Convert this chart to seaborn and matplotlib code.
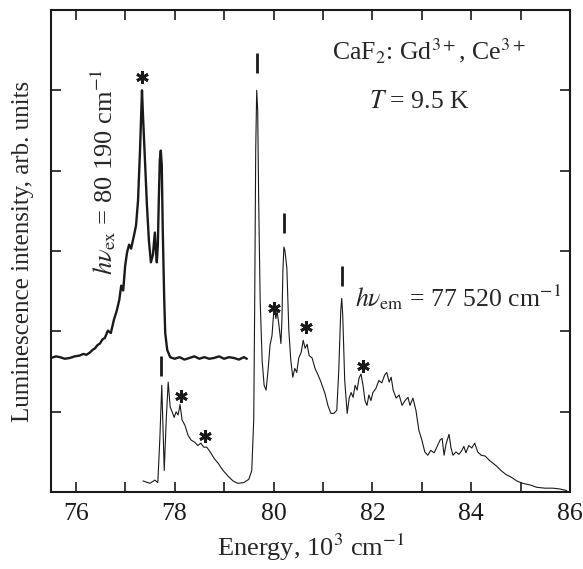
import matplotlib
matplotlib.use("Agg")
import matplotlib.pyplot as plt
from matplotlib.ticker import MultipleLocator, NullFormatter
import seaborn as sns

# excitation spectrum (thick line)
ex_energy = [75.50, 75.60, 75.68, 75.78, 75.88, 75.98, 76.08, 76.15, 76.22, 76.29, 76.34, 76.39,
             76.44, 76.49, 76.54, 76.59, 76.65, 76.71, 76.77, 76.83, 76.88, 76.92, 76.96, 77.00,
             77.04, 77.08, 77.12, 77.18, 77.22, 77.26, 77.30, 77.32, 77.34, 77.36, 77.40, 77.44,
             77.48, 77.52, 77.56, 77.60, 77.62, 77.64, 77.66, 77.68, 77.70, 77.72, 77.74, 77.76,
             77.79, 77.81, 77.85, 77.91, 78.00, 78.10, 78.20, 78.30, 78.40, 78.50, 78.60, 78.70,
             78.80, 78.90, 79.00, 79.10, 79.20, 79.30, 79.40, 79.46]
ex_int = [1.67, 1.69, 1.68, 1.66, 1.67, 1.69, 1.70, 1.72, 1.71, 1.74, 1.77, 1.79,
          1.83, 1.85, 1.90, 1.92, 2.01, 1.98, 2.14, 2.26, 2.39, 2.57, 2.51, 2.82,
          2.99, 3.08, 3.03, 3.20, 3.32, 3.63, 4.25, 4.63, 5.00, 4.69, 4.13, 3.57,
          3.13, 2.86, 2.95, 3.23, 3.01, 2.86, 3.07, 3.63, 4.13, 4.25, 4.07, 3.26,
          2.39, 1.98, 1.77, 1.68, 1.66, 1.68, 1.65, 1.67, 1.69, 1.66, 1.68, 1.66,
          1.67, 1.69, 1.66, 1.68, 1.67, 1.65, 1.68, 1.66]

# emission spectrum (thin line)
em_energy = [77.36, 77.50, 77.60, 77.66, 77.70, 77.74, 77.76, 77.79, 77.83, 77.87, 77.91, 77.95,
             77.99, 78.03, 78.07, 78.11, 78.15, 78.21, 78.27, 78.33, 78.41, 78.47, 78.53, 78.59,
             78.65, 78.72, 78.80, 78.88, 78.98, 79.08, 79.18, 79.28, 79.40, 79.50, 79.56, 79.60,
             79.62, 79.64, 79.66, 79.68, 79.70, 79.73, 79.77, 79.81, 79.85, 79.89, 79.93, 79.97,
             80.01, 80.05, 80.07, 80.11, 80.15, 80.17, 80.19, 80.21, 80.23, 80.27, 80.31, 80.35,
             80.39, 80.43, 80.47, 80.51, 80.56, 80.60, 80.64, 80.68, 80.72, 80.78, 80.84, 80.90,
             80.96, 81.04, 81.10, 81.16, 81.22, 81.28, 81.32, 81.36, 81.38, 81.40, 81.44, 81.49,
             81.53, 81.57, 81.61, 81.65, 81.69, 81.73, 81.77, 81.81, 81.85, 81.89, 81.93, 81.97,
             82.01, 82.07, 82.13, 82.19, 82.25, 82.29, 82.34, 82.38, 82.42, 82.48, 82.54, 82.60,
             82.66, 82.72, 82.76, 82.82, 82.88, 82.94, 83.00, 83.06, 83.12, 83.18, 83.25, 83.31,
             83.37, 83.41, 83.45, 83.49, 83.55, 83.59, 83.63, 83.69, 83.75, 83.81, 83.85, 83.89,
             83.95, 84.01, 84.07, 84.13, 84.20, 84.28, 84.36, 84.44, 84.52, 84.60, 84.70, 84.80,
             84.92, 85.04, 85.19, 85.33, 85.49, 85.65, 85.79, 85.93]
em_int = [0.14, 0.11, 0.15, 0.12, 0.65, 1.33, 0.90, 0.27, 0.90, 1.37, 1.06, 1.00,
          0.93, 1.00, 0.96, 1.09, 0.90, 0.83, 0.71, 0.65, 0.62, 0.58, 0.61, 0.56,
          0.56, 0.50, 0.42, 0.36, 0.27, 0.20, 0.14, 0.11, 0.12, 0.16, 0.27, 0.90,
          2.39, 4.25, 5.00, 4.75, 3.63, 2.39, 1.64, 1.33, 1.27, 1.52, 1.83, 1.95,
          2.29, 2.16, 2.26, 2.08, 1.85, 2.14, 2.76, 3.05, 3.01, 2.79, 2.01, 1.64,
          1.43, 1.54, 1.49, 1.67, 1.74, 1.89, 1.79, 1.84, 1.70, 1.67, 1.54, 1.46,
          1.37, 1.23, 1.08, 0.98, 0.98, 1.02, 1.52, 2.26, 2.41, 2.20, 1.39, 0.98,
          1.17, 1.24, 1.18, 1.33, 1.27, 1.42, 1.47, 1.33, 1.14, 1.08, 1.21, 1.14,
          1.24, 1.29, 1.39, 1.36, 1.46, 1.49, 1.37, 1.43, 1.27, 1.17, 1.21, 1.08,
          1.14, 1.18, 1.08, 1.17, 1.02, 0.77, 0.65, 0.50, 0.46, 0.52, 0.49, 0.57,
          0.65, 0.67, 0.46, 0.60, 0.72, 0.55, 0.46, 0.50, 0.47, 0.52, 0.57, 0.49,
          0.58, 0.55, 0.61, 0.50, 0.46, 0.45, 0.40, 0.36, 0.32, 0.27, 0.22, 0.19,
          0.14, 0.11, 0.09, 0.06, 0.05, 0.05, 0.04, 0.02]

# annotation marks
bar_x = [77.72, 79.66, 80.21, 81.38]
bar_y = [1.57, 5.34, 3.35, 2.69]
star_x = [77.34, 80.02, 80.66, 81.80, 78.12, 78.62]
star_y = [5.17, 2.29, 2.05, 1.57, 1.20, 0.70]

sns.set_theme(style="ticks")
plt.rcParams['font.family'] = ['Liberation Serif', 'DejaVu Serif']
plt.rcParams['mathtext.fontset'] = 'stix'

fig = plt.figure(figsize=(5.83, 5.69), dpi=100)
ax = fig.add_axes([0.0875, 0.135, 0.8905, 0.8475])

sns.lineplot(x=ex_energy, y=ex_int, ax=ax, color='#1a1a1a', lw=1.7)
sns.lineplot(x=em_energy, y=em_int, ax=ax, color='#1a1a1a', lw=0.8)

ax.plot(bar_x, bar_y, ls='none', marker='|', ms=15, mew=2.0, color='#1a1a1a')
ax.plot(star_x, star_y, ls='none', marker=(6, 2, 0), ms=9, mew=2.0, color='#1a1a1a')

ax.set_xlim(75.5, 86)
ax.set_ylim(0, 6)
ax.xaxis.set_major_locator(MultipleLocator(2))
ax.xaxis.set_minor_locator(MultipleLocator(1))
ax.yaxis.set_major_locator(MultipleLocator(1))
ax.yaxis.set_major_formatter(NullFormatter())
ax.tick_params(which='both', direction='in', top=True, right=True, length=7, width=1.2,
               labelsize=18.5, colors='#1a1a1a')
ax.tick_params(axis='x', pad=8)
for s in ax.spines.values():
    s.set_linewidth(1.5)
    s.set_color('#1a1a1a')

ax.set_xlabel("Energy, 10$^3$ cm$^{-1}$", fontsize=19, labelpad=5)
ax.set_ylabel("Luminescence intensity, arb. units", fontsize=18, labelpad=9)

ax.text(83.15, 5.5, "CaF$_2$: Gd$^{3+}$, Ce$^{3+}$", fontsize=18.5, ha='center', va='center')
ax.text(82.95, 4.86, "$T$ = 9.5 K", fontsize=18.5, ha='center', va='center')
ax.text(81.65, 2.43, r"$h\nu_{\rm em}$ = 77 520 cm$^{-1}$", fontsize=18.5, ha='left', va='center')
ax.text(76.55, 3.98, r"$h\nu_{\rm ex}$ = 80 190 cm$^{-1}$", fontsize=19, ha='center', va='center',
        rotation=90)

fig.savefig("out.png", dpi=100)
